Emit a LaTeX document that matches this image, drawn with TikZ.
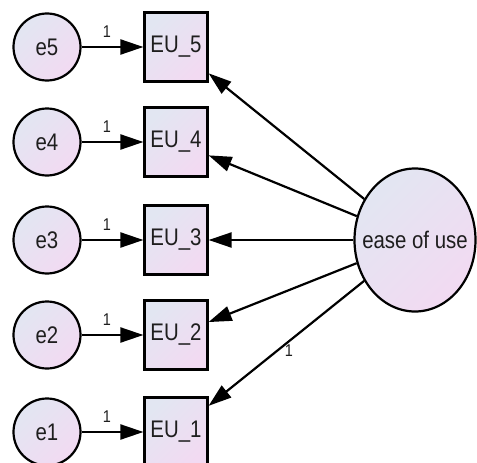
\documentclass[tikz,border=0pt]{standalone}
\usepackage{fontspec}
\setmainfont{Liberation Sans}
\newfontfamily\lblfont[FakeStretch=0.85]{Liberation Sans}
\usetikzlibrary{arrows.meta,shapes.geometric}
\definecolor{fillA}{RGB}{226,230,242}
\definecolor{fillB}{RGB}{242,218,242}
\definecolor{txt}{RGB}{30,30,30}
\tikzset{
  shadefill/.style={shading=axis,left color=fillA,right color=fillB,shading angle=45},
  lbltext/.style={font=\lblfont\fontsize{24}{26}\selectfont,text=txt},
  errnode/.style={circle,draw,line width=2.2pt,shadefill,minimum size=67pt,inner sep=0pt,lbltext},
  obsnode/.style={rectangle,draw,line width=2.2pt,shadefill,minimum width=63pt,minimum height=69pt,inner sep=0pt,lbltext},
  latnode/.style={ellipse,draw,line width=2.2pt,shadefill,minimum width=121pt,minimum height=143pt,inner sep=0pt},
  arr/.style={line width=2.2pt,-{Triangle[length=23pt,width=15pt]}},
  wlabel/.style={font=\lblfont\fontsize{17}{18}\selectfont,inner sep=1pt,text=txt}
}
\begin{document}
\begin{tikzpicture}[x=1pt,y=-1pt]
\useasboundingbox (0,0) rectangle (477,463);
\node[latnode,label={[lbltext]center:ease of use}] (F) at (415,240) {};
\foreach \i/\y in {5/47,4/142,3/240,2/335,1/432}{
  \node[errnode] (e\i) at (47,\y) {e\i};
  \node[obsnode] (EU\i) at (176,\y) {EU\_\i};
  \draw[arr] (e\i) -- (EU\i);
  \node[wlabel] at (107,\y-15) {1};
  \draw[arr] (F) -- (EU\i);
}
\node[wlabel] at (289,351) {1};
\end{tikzpicture}
\end{document}
